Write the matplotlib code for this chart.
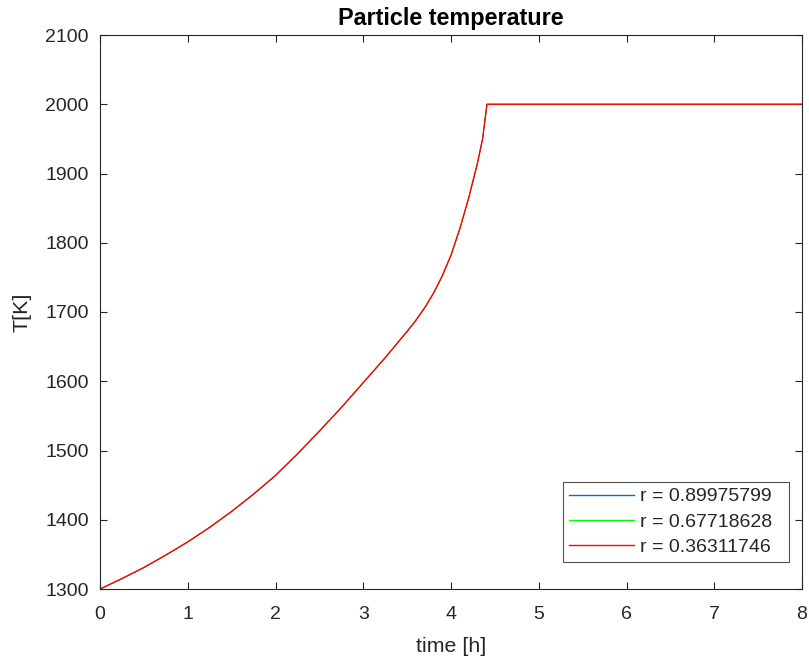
import matplotlib
matplotlib.use("Agg")
import matplotlib.pyplot as plt

# Particle temperature history (time in hours, temperature in K)
time_h = [0, 0.25, 0.5, 0.75, 1.0, 1.25, 1.5, 1.75, 2.0, 2.25, 2.5, 2.75,
          3.0, 3.25, 3.5, 3.6, 3.7, 3.8, 3.9, 4.0, 4.1, 4.2, 4.3, 4.36,
          4.41, 8.0]
temp_K = [1300, 1315, 1331, 1349, 1368, 1389, 1412, 1437, 1464, 1495, 1528,
          1562, 1598, 1634, 1672, 1688, 1706, 1727, 1752, 1782, 1820, 1864,
          1914, 1950, 2000, 2000]

radii = ["0.89975799", "0.67718628", "0.36311746"]
colors = ["#0072BD", "#00FF00", "#FF0000"]
widths = [0.6, 0.6, 1.0]

xticks = [0, 1, 2, 3, 4, 5, 6, 7, 8]
yticks = [1300, 1400, 1500, 1600, 1700, 1800, 1900, 2000, 2100]

plt.rcParams["font.family"] = ["Liberation Sans", "DejaVu Sans"]
ink = "#262626"

fig = plt.figure(figsize=(8.09, 6.66), dpi=100)
ax = fig.add_axes([100 / 809, 1 - 589 / 666, 702 / 809, 554 / 666])

for r, c, w in zip(radii, colors, widths):
    ax.plot(time_h, temp_K, color=c, lw=w, label=f"r = {r}  ")

ax.set_xlim(0, 8)
ax.set_ylim(1300, 2100)
ax.set_xticks(xticks)
ax.set_yticks(yticks)
ax.tick_params(direction="in", length=5, width=0.8, top=True, right=True,
               labelsize=14, colors=ink)
ax.tick_params(axis="x", pad=12)
ax.tick_params(axis="y", pad=8)
for s in ax.spines.values():
    s.set_color(ink)
    s.set_linewidth(0.8)

ax.set_xlabel("time [h]", fontsize=15.4, color=ink, labelpad=10)
ax.set_ylabel("T[K]", fontsize=15.4, color=ink, labelpad=10)
ax.set_title("Particle temperature", fontsize=16.8, fontweight="bold",
             color="black", pad=7)

leg = ax.legend(loc="lower right", bbox_to_anchor=(0.9815, 0.0487),
                borderaxespad=0, fontsize=14, handlelength=3.35,
                frameon=True, fancybox=False, edgecolor=ink,
                labelspacing=0.4, borderpad=0.3, handletextpad=0.3)
leg.get_frame().set_linewidth(0.8)
for line in leg.get_lines():
    line.set_linewidth(1.0)
for t in leg.get_texts():
    t.set_color(ink)

fig.savefig("out.png", dpi=100)
